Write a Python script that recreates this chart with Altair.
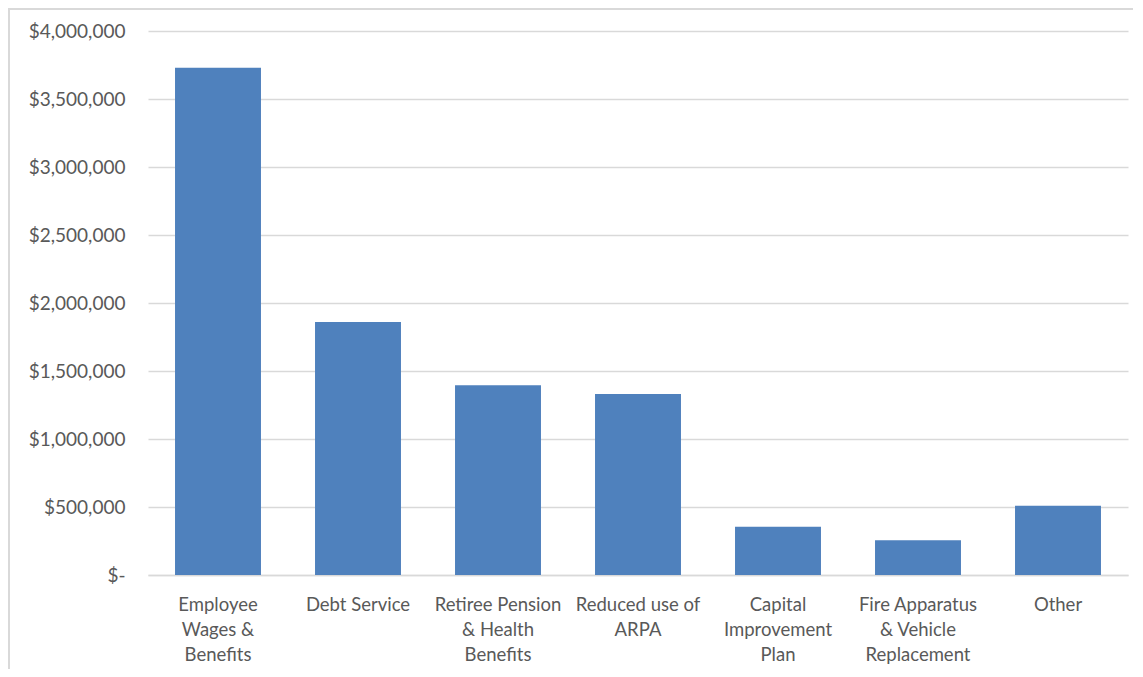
import altair as alt
import pandas as pd

categories = [
    "Employee\nWages &\nBenefits",
    "Debt Service",
    "Retiree Pension\n& Health\nBenefits",
    "Reduced use of\nARPA",
    "Capital\nImprovement\nPlan",
    "Fire Apparatus\n& Vehicle\nReplacement",
    "Other",
]
values = [3730000, 1860000, 1395000, 1330000, 355000, 255000, 510000]
y_ticks = [0, 500000, 1000000, 1500000, 2000000, 2500000, 3000000, 3500000, 4000000]

df = pd.DataFrame({"category": categories, "value": values})

FONT = "Lato"
TEXT = "#595959"
GRID = "#D9D9D9"

bars = alt.Chart(df).mark_bar(color="#4F81BD").encode(
    x=alt.X(
        "category:N",
        sort=categories,
        title=None,
        scale=alt.Scale(paddingInner=0.386, paddingOuter=0.193),
        axis=alt.Axis(
            labelAngle=0,
            labelExpr="split(datum.label, '\\n')",
            labelBaseline="top",
            labelLineHeight=25,
            labelPadding=20,
            labelFont=FONT,
            labelFontSize=18.5,
            labelColor=TEXT,
            ticks=False,
            domain=True,
            domainColor=GRID,
            domainWidth=1.3,
            labelLimit=200,
        ),
    ),
    y=alt.Y(
        "value:Q",
        title=None,
        scale=alt.Scale(domain=[0, 4000000], nice=False),
        axis=alt.Axis(
            values=y_ticks,
            labelExpr="datum.value == 0 ? '$-' : '$' + format(datum.value, ',')",
            labelFont=FONT,
            labelFontSize=19,
            labelColor=TEXT,
            labelPadding=23,
            ticks=False,
            domain=False,
            grid=True,
            gridColor=GRID,
            gridWidth=1.3,
        ),
    ),
)

frame = alt.Data(values=[{}])
top_rule = alt.Chart(frame).mark_rule(color=GRID, strokeWidth=2).encode(
    x=alt.value(-140), x2=alt.value(990), y=alt.value(-22)
)
left_rule = alt.Chart(frame).mark_rule(color=GRID, strokeWidth=2).encode(
    x=alt.value(-139), y=alt.value(-23), y2=alt.value(640)
)

chart = (
    alt.layer(bars, top_rule, left_rule)
    .properties(
        width=980,
        height=544,
        padding={"left": 140, "top": 23, "right": 5, "bottom": 94},
        autosize="none",
    )
    .configure_view(strokeWidth=0)
)

chart.save("out.html", embed_options={"renderer": "svg", "actions": False})
